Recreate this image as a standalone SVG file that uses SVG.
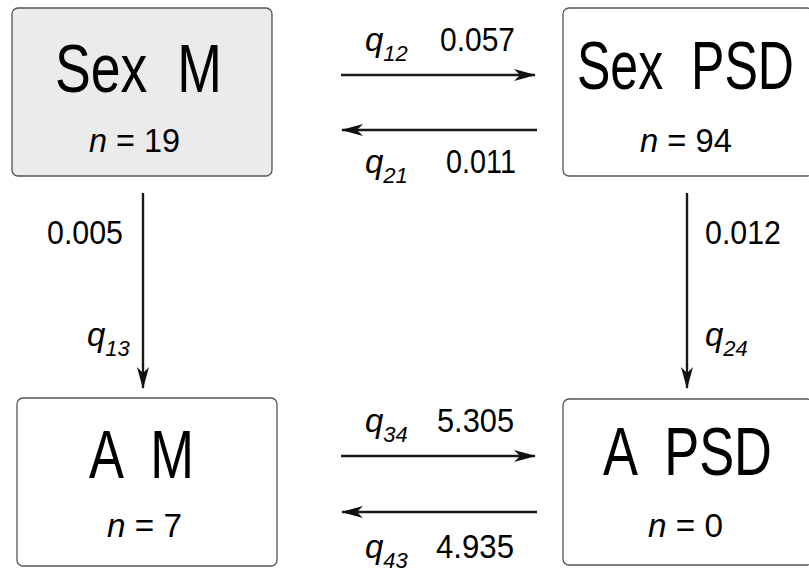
<svg xmlns="http://www.w3.org/2000/svg" width="809" height="573" viewBox="0 0 809 573">
<defs>
<marker id="ah" viewBox="0 0 22 12" refX="21" refY="6" markerWidth="22" markerHeight="12" markerUnits="userSpaceOnUse" orient="auto">
<path d="M0,0 L22,6 L0,12 L6,6 Z" fill="#111"/>
</marker>
<style>
text{font-family:"Liberation Sans",Arial,sans-serif;fill:#000}
.box{fill:#fff;stroke:#555;stroke-width:1.3}
.shaded{fill:#ebebeb}
.title{font-size:68px}
.n{font-size:34px}
.lab{font-size:33px}
.it{font-style:italic}
.sub{font-size:22px;font-style:italic}
.arr{stroke:#1a1a1a;stroke-width:2.4;fill:none;marker-end:url(#ah)}
</style>
</defs>
<rect width="809" height="573" fill="#fff"/>
<g id="sexM">
<rect class="box shaded" x="12" y="8" width="260" height="168" rx="6"/>
<text class="title" transform="translate(55,92) scale(0.789,1)" xml:space="preserve">Sex  M</text>
<text class="n" x="89" y="152" textLength="91" lengthAdjust="spacingAndGlyphs"><tspan class="it">n</tspan> = 19</text>
</g>
<g id="sexPSD">
<rect class="box" x="563" y="8" width="250" height="168" rx="6"/>
<text class="title" transform="translate(577,89) scale(0.736,1)" xml:space="preserve">Sex  PSD</text>
<text class="n" x="640" y="152" textLength="92" lengthAdjust="spacingAndGlyphs"><tspan class="it">n</tspan> = 94</text>
</g>
<g id="AM">
<rect class="box" x="17" y="398" width="260" height="168" rx="6"/>
<text class="title" transform="translate(89,478) scale(0.772,1)" xml:space="preserve">A  M</text>
<text class="n" x="107" y="537" textLength="75" lengthAdjust="spacingAndGlyphs"><tspan class="it">n</tspan> = 7</text>
</g>
<g id="APSD">
<rect class="box" x="563" y="399" width="250" height="166" rx="6"/>
<text class="title" transform="translate(603,475) scale(0.771,1)" xml:space="preserve">A  PSD</text>
<text class="n" x="648" y="537" textLength="75" lengthAdjust="spacingAndGlyphs"><tspan class="it">n</tspan> = 0</text>
</g>
<g id="connectors">
<line class="arr" x1="341" y1="75" x2="535" y2="75"/>
<line class="arr" x1="537" y1="130" x2="342" y2="130"/>
<line class="arr" x1="341" y1="456" x2="535" y2="456"/>
<line class="arr" x1="537" y1="512" x2="342" y2="512"/>
<line class="arr" x1="143" y1="193" x2="143" y2="388"/>
<line class="arr" x1="687" y1="193" x2="687" y2="388"/>
</g>
<g id="labels">
<text class="lab" x="365" y="51"><tspan class="it">q</tspan><tspan class="sub" dy="10">12</tspan></text>
<text class="lab" x="440" y="51" textLength="75" lengthAdjust="spacingAndGlyphs">0.057</text>
<text class="lab" x="365" y="173"><tspan class="it">q</tspan><tspan class="sub" dy="10">21</tspan></text>
<text class="lab" x="446" y="173" textLength="70" lengthAdjust="spacingAndGlyphs">0.011</text>
<text class="lab" x="365" y="432"><tspan class="it">q</tspan><tspan class="sub" dy="10">34</tspan></text>
<text class="lab" x="437" y="432" textLength="77" lengthAdjust="spacingAndGlyphs">5.305</text>
<text class="lab" x="365" y="558"><tspan class="it">q</tspan><tspan class="sub" dy="10">43</tspan></text>
<text class="lab" x="436" y="558" textLength="78" lengthAdjust="spacingAndGlyphs">4.935</text>
<text class="lab" x="47" y="244" textLength="76" lengthAdjust="spacingAndGlyphs">0.005</text>
<text class="lab" x="87" y="346"><tspan class="it">q</tspan><tspan class="sub" dy="10">13</tspan></text>
<text class="lab" x="705" y="244" textLength="76" lengthAdjust="spacingAndGlyphs">0.012</text>
<text class="lab" x="705" y="346"><tspan class="it">q</tspan><tspan class="sub" dy="10">24</tspan></text>
</g>
</svg>
